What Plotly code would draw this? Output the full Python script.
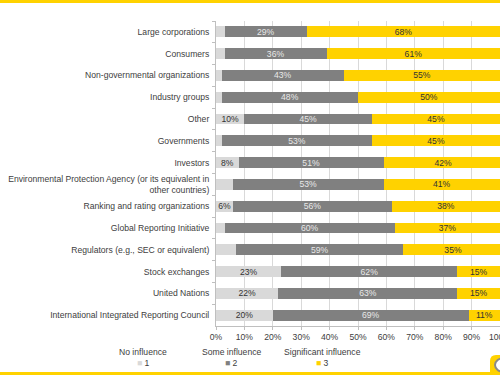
import plotly.graph_objects as go

categories = [
    "Large corporations",
    "Consumers",
    "Non-governmental organizations",
    "Industry groups",
    "Other",
    "Governments",
    "Investors",
    "Environmental Protection Agency (or its equivalent in<br>other countries)",
    "Ranking and rating organizations",
    "Global Reporting Initiative",
    "Regulators (e.g., SEC or equivalent)",
    "Stock exchanges",
    "United Nations",
    "International Integrated Reporting Council",
]
no_influence = [3, 3, 2, 2, 10, 2, 8, 6, 6, 3, 7, 23, 22, 20]
some_influence = [29, 36, 43, 48, 45, 53, 51, 53, 56, 60, 59, 62, 63, 69]
significant_influence = [68, 61, 55, 50, 45, 45, 42, 41, 38, 37, 35, 15, 15, 11]
show_no_label = [False, False, False, False, True, False, True, False, True, False, False, True, True, True]
x_ticks = [0, 10, 20, 30, 40, 50, 60, 70, 80, 90, 100]
x_tick_labels = [f"{v}%" for v in x_ticks]
legend_headers = ["No influence", "Some influence", "Significant influence"]
legend_names = ["1", "2", "3"]

W, H = 500, 375
ML, MR, MT, MB = 216, 0, 21, 49
PW, PH = W - ML - MR, H - MT - MB


def px(xp):
    return (xp - ML) / PW


def py(yp):
    return (H - MB - yp) / PH


FONT = "Liberation Sans"
FS = 8.6
C_LIGHT = "#d9d9d9"
C_DARK = "#808080"
C_YELLOW = "#ffd200"
C_TEXT = "#404040"

fig = go.Figure()
fig.add_trace(go.Bar(
    y=categories, x=no_influence, orientation="h", name=legend_names[0],
    marker=dict(color=C_LIGHT, line=dict(width=0)),
    text=[f"{v}%" if s else "" for v, s in zip(no_influence, show_no_label)],
    textposition="inside", insidetextanchor="middle", textangle=0,
    textfont=dict(color="#333333", size=FS, family=FONT),
))
fig.add_trace(go.Bar(
    y=categories, x=some_influence, orientation="h", name=legend_names[1],
    marker=dict(color=C_DARK, line=dict(width=0)),
    text=[f"{v}%" for v in some_influence],
    textposition="inside", insidetextanchor="middle", textangle=0,
    textfont=dict(color="#e8e8e8", size=FS, family=FONT),
))
fig.add_trace(go.Bar(
    y=categories, x=significant_influence, orientation="h", name=legend_names[2],
    marker=dict(color=C_YELLOW, line=dict(width=0)),
    text=[f"{v}%" for v in significant_influence],
    textposition="inside", insidetextanchor="middle", textangle=0,
    textfont=dict(color="#333333", size=FS, family=FONT),
))

annotations = []
legend_colors = [C_LIGHT, C_DARK, C_YELLOW]
legend_x = [143, 231, 322]
for hdr, nm, col, xc in zip(legend_headers, legend_names, legend_colors, legend_x):
    annotations.append(dict(
        x=px(xc), y=py(352), xref="paper", yref="paper", text=hdr, showarrow=False,
        font=dict(size=FS, color=C_TEXT, family=FONT), xanchor="center", yanchor="middle",
    ))
    annotations.append(dict(
        x=px(xc), y=py(363), xref="paper", yref="paper",
        text=f"<span style='color:{col}'>■</span> {nm}", showarrow=False,
        font=dict(size=FS, color=C_TEXT, family=FONT), xanchor="center", yanchor="middle",
    ))

shapes = [
    dict(type="rect", xref="paper", yref="paper", x0=px(0), x1=px(W), y0=py(2.5), y1=py(0),
         fillcolor=C_YELLOW, line=dict(width=0), layer="below"),
    dict(type="rect", xref="paper", yref="paper", x0=px(0), x1=px(W), y0=py(375), y1=py(372),
         fillcolor=C_YELLOW, line=dict(width=0), layer="below"),
    dict(type="path", xref="paper", yref="paper",
         path=(f"M {px(490)},{py(375)} L {px(490)},{py(361)} Q {px(490)},{py(355)} {px(496)},{py(355)} "
               f"L {px(500)},{py(355)} L {px(500)},{py(375)} Z"),
         fillcolor=C_YELLOW, line=dict(width=0), layer="above"),
    dict(type="circle", xref="paper", yref="paper", x0=px(495), x1=px(513), y0=py(372), y1=py(358),
         fillcolor="white", line=dict(width=2, color="#8a8a8a"), layer="above"),
]

fig.update_layout(
    width=W, height=H,
    margin=dict(l=ML, r=MR, t=MT, b=MB, pad=0),
    barmode="stack", bargap=0.5,
    paper_bgcolor="white", plot_bgcolor="white",
    showlegend=False,
    font=dict(family=FONT, size=FS, color=C_TEXT),
    uniformtext=dict(mode="show", minsize=FS),
    annotations=annotations, shapes=shapes,
    xaxis=dict(
        range=[0, 100], tickvals=x_ticks, ticktext=x_tick_labels,
        showgrid=True, gridcolor="#d9d9d9", gridwidth=1,
        showline=True, linecolor="#bfbfbf", linewidth=1,
        ticks="outside", ticklen=3, tickcolor="#bfbfbf",
        tickfont=dict(size=FS, color=C_TEXT, family=FONT),
        ticklabeloverflow="allow",
        zeroline=False, automargin=False, fixedrange=True,
    ),
    yaxis=dict(
        autorange="reversed", type="category",
        showline=True, linecolor="#bfbfbf", linewidth=1,
        ticks="outside", ticklen=3, tickcolor="#bfbfbf", tickson="boundaries",
        tickfont=dict(size=FS, color=C_TEXT, family=FONT),
        ticklabelstandoff=4,
        showgrid=False, automargin=False, fixedrange=True,
    ),
)

fig.write_html(
    "out.html",
    config={"displayModeBar": False, "staticPlot": True},
    post_script=(
        "document.documentElement.style.margin='0';"
        "document.body.style.margin='0';document.body.style.padding='0';"
        "document.body.style.overflow='hidden';window.scrollTo(0,0);"
        "var band=document.createElement('div');"
        "band.style.cssText='position:fixed;left:0;top:0;width:500px;height:3px;"
        "background:#ffd200;z-index:10;pointer-events:none;';"
        "document.body.appendChild(band);"
    ),
)
